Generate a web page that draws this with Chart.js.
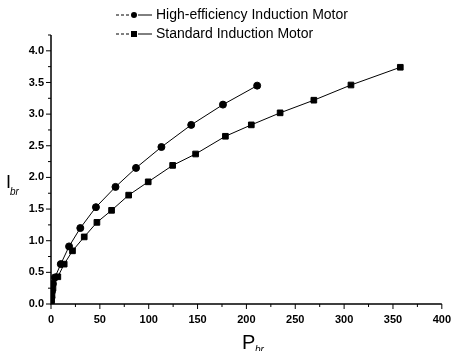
<!DOCTYPE html>
<html>
<head>
<meta charset="utf-8">
<script src="https://cdn.jsdelivr.net/npm/chart.js@4.4.0/dist/chart.umd.min.js"></script>
<style>
  html, body { margin: 0; padding: 0; background: #fff; }
  #wrap { width: 460px; height: 351px; }
</style>
</head>
<body>
<div id="wrap"><canvas id="myChart" width="460" height="351"></canvas></div>
<script>
// values
var highP = [0, 0.5, 1, 2, 4, 10, 18.5, 30, 46, 66, 87, 113, 143.5, 176, 211];
var highI = [0.03, 0.1, 0.2, 0.32, 0.42, 0.63, 0.91, 1.2, 1.53, 1.85, 2.15, 2.48, 2.83, 3.15, 3.45];
var stdP = [0, 0.5, 1, 2, 7, 13.5, 22, 34, 47, 62, 79.5, 99.5, 124.5, 148, 178.5, 205, 234.5, 269, 307, 357.5];
var stdI = [0.02, 0.08, 0.15, 0.25, 0.43, 0.63, 0.84, 1.06, 1.29, 1.48, 1.72, 1.93, 2.19, 2.37, 2.65, 2.83, 3.02, 3.22, 3.46, 3.74];
var seriesNames = ['High-efficiency Induction Motor', 'Standard Induction Motor'];
var xTicks = [0, 50, 100, 150, 200, 250, 300, 350, 400];
var yTicks = [0.0, 0.5, 1.0, 1.5, 2.0, 2.5, 3.0, 3.5, 4.0];

function toPoints(xs, ys) {
    return xs.map(function (x, i) { return { x: x, y: ys[i] }; });
}

var tickFont = { family: 'Liberation Sans', size: 11, weight: 'bold' };

// axes lines, major/minor ticks, legend and axis titles
var decor = {
    id: 'decor',
    afterDraw: function (chart) {
        var c = chart.ctx, xs = chart.scales.x, ys = chart.scales.y, a = chart.chartArea;
        c.save();
        c.strokeStyle = '#000';
        c.lineWidth = 1.5;
        c.beginPath();
        c.moveTo(a.left, a.top);
        c.lineTo(a.left, a.bottom);
        c.lineTo(a.right, a.bottom);
        c.stroke();
        c.lineWidth = 1;
        var v, p;
        for (v = 0; v <= 400; v += 25) {
            p = xs.getPixelForValue(v);
            c.beginPath();
            c.moveTo(p, a.bottom);
            c.lineTo(p, a.bottom + (v % 50 === 0 ? 5 : 3));
            c.stroke();
        }
        for (v = 0; v <= 4.25; v += 0.25) {
            p = ys.getPixelForValue(v);
            c.beginPath();
            c.moveTo(a.left, p);
            c.lineTo(a.left - (Math.round(v * 4) % 2 === 0 ? 5 : 3), p);
            c.stroke();
        }

        // legend
        c.font = '14px "Liberation Sans", Arial, sans-serif';
        c.textBaseline = 'middle';
        c.fillStyle = '#000';
        var rows = [15, 34];
        chart.data.datasets.forEach(function (ds, i) {
            var y = rows[i];
            c.setLineDash([3, 2]);
            c.beginPath();
            c.moveTo(116, y);
            c.lineTo(130, y);
            c.stroke();
            c.setLineDash([]);
            c.beginPath();
            c.moveTo(138, y);
            c.lineTo(152, y);
            c.stroke();
            if (ds.pointStyle === 'rect') {
                c.fillRect(131, y - 3, 6, 6);
            } else {
                c.beginPath();
                c.arc(134, y, 3, 0, Math.PI * 2);
                c.fill();
            }
            c.fillText(ds.label, 156, y);
        });

        // axis titles
        c.textBaseline = 'alphabetic';
        c.font = '18px "Liberation Sans", Arial, sans-serif';
        c.fillText('I', 6, 188);
        c.font = 'italic 10px "Liberation Sans", Arial, sans-serif';
        c.fillText('br', 10, 195);
        c.font = '20px "Liberation Sans", Arial, sans-serif';
        c.fillText('P', 242, 349);
        c.font = 'italic 10px "Liberation Sans", Arial, sans-serif';
        c.fillText('br', 255, 353);
        c.restore();
    }
};

var ctx = document.getElementById('myChart').getContext('2d');
var myChart = new Chart(ctx, {
    type: 'scatter',
    data: {
        datasets: [{
            label: seriesNames[0],
            data: toPoints(highP, highI),
            showLine: true,
            borderColor: '#000',
            backgroundColor: '#000',
            borderWidth: 1,
            pointStyle: 'circle',
            pointRadius: 3.5,
            pointHoverRadius: 3.5
        }, {
            label: seriesNames[1],
            data: toPoints(stdP, stdI),
            showLine: true,
            borderColor: '#000',
            backgroundColor: '#000',
            borderWidth: 1,
            pointStyle: 'rect',
            pointRadius: 4,
            pointHoverRadius: 4
        }]
    },
    options: {
        responsive: false,
        animation: false,
        layout: { padding: { top: 35, right: 8, left: 0, bottom: 0 } },
        plugins: { legend: { display: false }, tooltip: { enabled: false } },
        scales: {
            x: {
                type: 'linear',
                min: 0,
                max: 400,
                afterBuildTicks: function (s) { s.ticks = xTicks.map(function (v) { return { value: v }; }); },
                afterFit: function (s) { s.height = 47; },
                grid: { display: false, drawTicks: false },
                border: { display: false },
                ticks: { color: '#000', font: tickFont, padding: 9, autoSkip: false, maxRotation: 0 }
            },
            y: {
                type: 'linear',
                min: 0,
                max: 4.25,
                afterBuildTicks: function (s) { s.ticks = yTicks.map(function (v) { return { value: v }; }); },
                afterFit: function (s) { s.width = 51; },
                grid: { display: false, drawTicks: false },
                border: { display: false },
                ticks: {
                    color: '#000', font: tickFont, padding: 7,
                    callback: function (v) { return Number(v).toFixed(1); }
                }
            }
        }
    },
    plugins: [decor]
});
</script>
</body>
</html>
